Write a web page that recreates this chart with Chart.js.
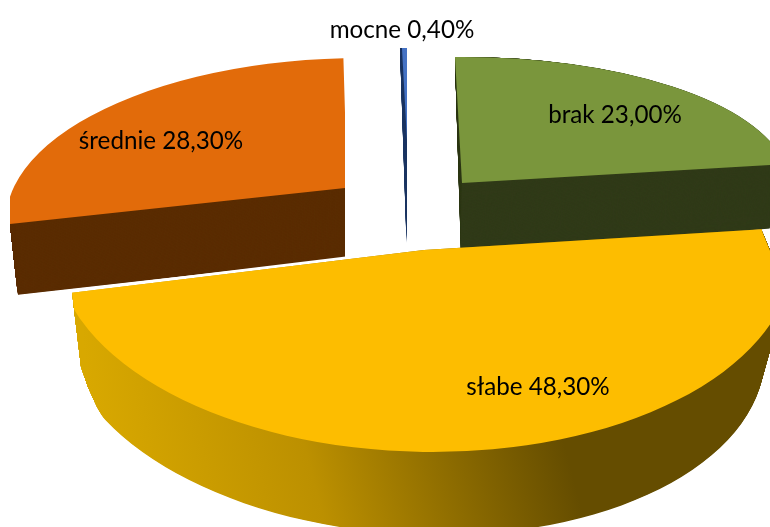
<!DOCTYPE html>
<html lang="pl">
<head>
<meta charset="utf-8">
<style>html,body{margin:0;padding:0;background:#fff;overflow:hidden}canvas{display:block}</style>
<script src="https://cdn.jsdelivr.net/npm/chart.js@4"></script>
</head>
<body>
<div style="width:770px;height:527px"><canvas id="c" width="770" height="527"></canvas></div>
<script>
const categories = ['brak', 'słabe', 'średnie', 'mocne'];
const shares = [23.0, 48.3, 28.3, 0.4];
const topColors = ['#7A963C', '#FDBD00', '#E26B0A', '#4472C4'];
const sideColors = ['#303A18', null, '#5A2C02', '#1F3864'];

// Perspective look of each slice: affine maps of the unit pie onto the page
const frontClip = [[72,200],[762,200],[762,231],[790,300],[790,527],[110,527],[110,430],[97,407],[88,387],[81,367],[72,292]];
const looks = [
  {top:{o:[462,183],c1:[326,-3],c2:[7,126]}, from:{o:[462,183],c1:[326,-3],c2:[7,126]},
   base:{o:[461,256],c1:[312,-3],c2:[6,196]}, label:[615,115]},
  {top:{o:[424,250],c1:[369,3],c2:[3,202]}, from:{o:[424,250],c1:[369,3],c2:[3,202]},
   base:{o:[414,340],c1:[350,0],c2:[26,195]}, label:[538,387], topClip:frontClip, sideClip:frontClip,
   ramp:[[80,'#D8A800'],[300,'#BC9000'],[560,'#654D00'],[770,'#654D00']]},
  {top:{o:[348,215],c1:[342,-4],c2:[-4,157]}, from:{o:[345,188],c1:[338,-4],c2:[0,130]},
   base:{o:[345,258],c1:[336,-7],c2:[0,130]}, label:[161,141],
   topClip:[[10,40],[345,40],[345,188],[10,224]],
   sideClip:[[345,187],[20,222],[10,224],[18,296],[345,259]]},
  {top:{o:[407,140],c1:[200,0],c2:[0,92]}, from:{o:[407,140],c1:[200,0],c2:[0,92]},
   base:{o:[406.5,243],c1:[260,0],c2:[0,195]}, label:[402,30]}
];
const STEPS = 120;

const lerp = (a, b, t) => a + (b - a) * t;
const mix = (p, q, t) => ({
  o:[lerp(p.o[0],q.o[0],t), lerp(p.o[1],q.o[1],t)],
  c1:[lerp(p.c1[0],q.c1[0],t), lerp(p.c1[1],q.c1[1],t)],
  c2:[lerp(p.c2[0],q.c2[0],t), lerp(p.c2[1],q.c2[1],t)]
});
function paint(ctx, el, m, fill) {
  const R = el.outerRadius;
  const saved = el.options;
  el.options = {backgroundColor: fill, borderColor: fill, borderWidth: 0, borderRadius: 0, offset: 0, spacing: 0, circular: true, borderAlign: 'center'};
  ctx.save();
  ctx.transform(m.c1[0]/R, m.c1[1]/R, m.c2[0]/R, m.c2[1]/R, m.o[0], m.o[1]);
  ctx.translate(-el.x, -el.y);
  el.draw(ctx);
  ctx.restore();
  el.options = saved;
}
function rampFor(ctx, el, m, stops) {
  const R = el.outerRadius;
  const toArc = x => el.x + (x - m.o[0]) * R / m.c1[0];
  const g = ctx.createLinearGradient(toArc(stops[0][0]), 0, toArc(stops[stops.length-1][0]), 0);
  const span = stops[stops.length-1][0] - stops[0][0];
  stops.forEach(s => g.addColorStop((s[0]-stops[0][0])/span, s[1]));
  return g;
}
function clipTo(ctx, poly) {
  if (!poly) return;
  ctx.beginPath();
  poly.forEach((p, k) => k ? ctx.lineTo(p[0], p[1]) : ctx.moveTo(p[0], p[1]));
  ctx.closePath();
  ctx.clip();
}
function slice(ctx, el, i) {
  const look = looks[i];
  ctx.save();
  clipTo(ctx, look.sideClip);
  for (let s = STEPS; s >= 0; s--) {
    const m = mix(look.from, look.base, s / STEPS);
    paint(ctx, el, m, look.ramp ? rampFor(ctx, el, m, look.ramp) : sideColors[i]);
  }
  ctx.restore();
  ctx.save();
  clipTo(ctx, look.topClip);
  paint(ctx, el, look.top, topColors[i]);
  ctx.restore();
}
const pie3d = {
  id: 'pie3d',
  beforeDatasetDraw(chart, args) {
    const ctx = chart.ctx, els = args.meta.data;
    slice(ctx, els[3], 3);
    slice(ctx, els[2], 2);
    // thin white rim along the upper edge of the front slice
    const rim = mix(looks[1].top, looks[1].top, 0);
    rim.o = [rim.o[0], rim.o[1] - 3];
    ctx.save();
    ctx.beginPath();
    ctx.rect(0, 0, 460, 527);
    ctx.clip();
    paint(ctx, els[1], rim, '#FFFFFF');
    ctx.restore();
    slice(ctx, els[0], 0);
    slice(ctx, els[1], 1);
    return false;
  },
  afterDatasetsDraw(chart) {
    const ctx = chart.ctx;
    ctx.save();
    ctx.font = '24.2px Lato';
    ctx.fillStyle = '#000';
    ctx.textAlign = 'center';
    ctx.textBaseline = 'middle';
    categories.forEach((c, i) => {
      const t = c + ' ' + shares[i].toFixed(2).replace('.', ',') + '%';
      ctx.fillText(t, looks[i].label[0], looks[i].label[1]);
    });
    ctx.restore();
  }
};
new Chart(document.getElementById('c'), {
  type: 'pie',
  data: {labels: categories, datasets: [{data: shares, backgroundColor: topColors, borderWidth: 0}]},
  options: {
    responsive: false, animation: false, events: [],
    layout: {padding: 0},
    plugins: {legend: {display: false}, tooltip: {enabled: false}}
  },
  plugins: [pie3d]
});
</script>
</body>
</html>
